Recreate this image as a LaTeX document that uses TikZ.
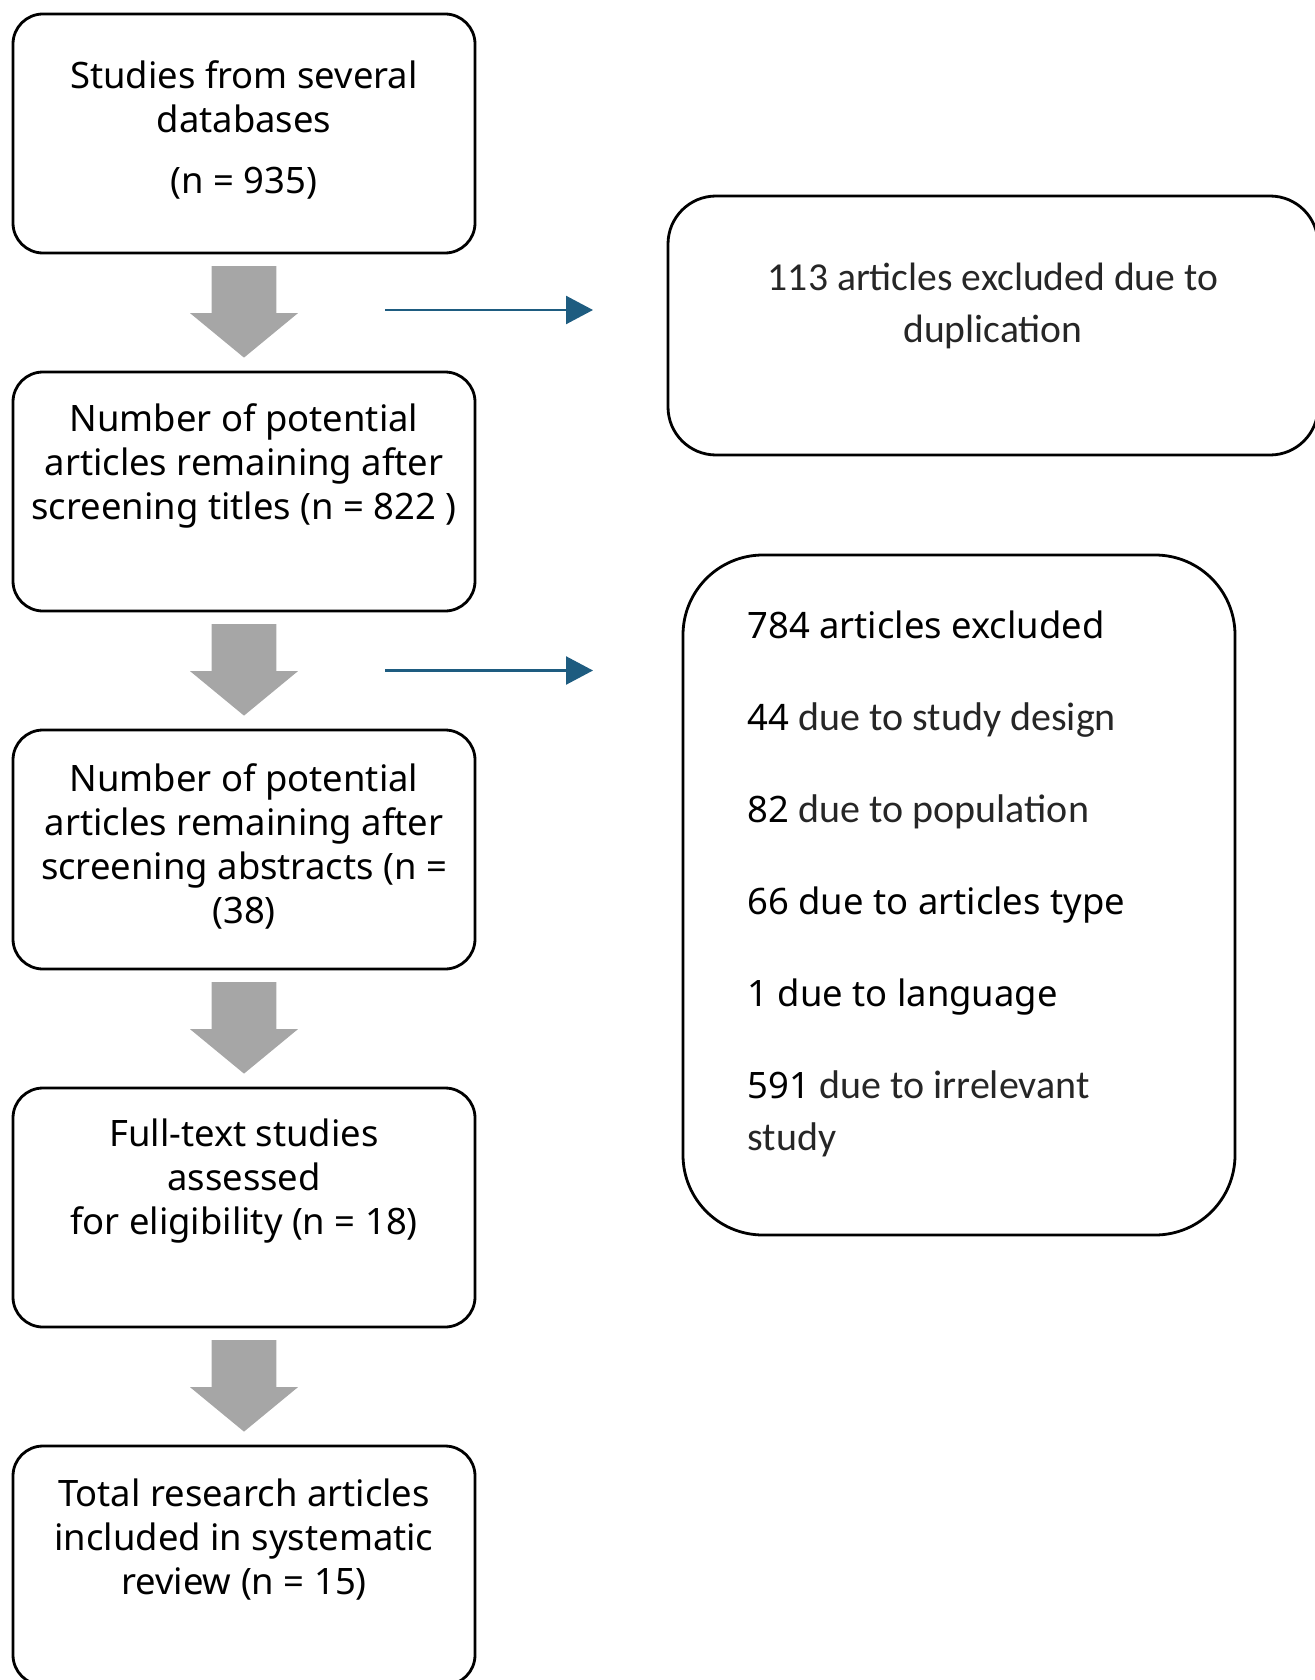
\documentclass[tikz,border=0pt]{standalone}
\usepackage{fontspec}
\setmainfont{Noto Sans}
\newfontfamily\calib{Carlito}
\usetikzlibrary{positioning,calc,shapes.arrows,arrows.meta}
\definecolor{arrowgray}{RGB}{166,166,166}
\definecolor{exclblue}{RGB}{30,92,128}
\tikzset{
  stage/.style={draw, line width=1.4pt, rounded corners=15pt, outer sep=0pt,
    minimum width=231pt, minimum height=119.5pt, inner sep=0pt},
  stagetext/.style={inner sep=0pt, align=center, font=\fontsize{18.2}{22}\selectfont},
  downarrow/.style={single arrow, fill=arrowgray, draw=none, shape border rotate=270,
    minimum height=45pt, minimum width=53.5pt, single arrow head extend=10.75pt,
    single arrow tip angle=101, inner sep=16pt, yshift=7pt},
  excl/.style={->, draw=exclblue, fill=exclblue, line width=1.2pt}
}
\newcommand\calpart[1]{{\calib\fontsize{20}{26}\selectfont\color{black!85}#1}}
\begin{document}
\begin{tikzpicture}[x=0.5pt, y=-0.5pt, >={Triangle[length=13.5pt,width=14pt]}, line join=round]
\useasboundingbox (0,0) rectangle (1314,1680);
% left column
\node[stage] (db) at (244,133.5) {};
\node[stage, below=59.5pt of db] (titles) {};
\node[stage, below=59.5pt of titles] (abstracts) {};
\node[stage, below=59.5pt of abstracts] (fulltext) {};
\node[stage, below=59.5pt of fulltext] (included) {};
\node[stagetext] (db-t) at ([yshift=2pt]db.center)
  {Studies from several\\databases\\[8.5pt](n = 935)};
\node[stagetext] (titles-t) at ([yshift=12.75pt]titles.center)
  {Number of potential\\articles remaining after\\screening titles (n = 822 )};
\node[stagetext] (abstracts-t) at ([yshift=1.75pt]abstracts.center)
  {Number of potential\\articles remaining after\\screening abstracts (n =\\(38)};
\node[stagetext] (fulltext-t) at ([yshift=13pt]fulltext.center)
  {Full-text studies\\assessed\\for eligibility (n = 18)};
\node[stagetext] (included-t) at ([yshift=13pt]included.center)
  {Total research articles\\included in systematic\\review (n = 15)};
% grey block arrows
\node[downarrow] (a1) at ($(db.south)!.5!(titles.north)$) {};
\node[downarrow] (a2) at ($(titles.south)!.5!(abstracts.north)$) {};
\node[downarrow] (a3) at ($(abstracts.south)!.5!(fulltext.north)$) {};
\node[downarrow] (a4) at ($(fulltext.south)!.5!(included.north)$) {};
% exclusions
\node[stage, minimum width=325pt, minimum height=129.5pt, rounded corners=24pt] (dup) at (993,325.5) {};
\node[stagetext, font=\calib\fontsize{19.8}{26}\selectfont, text=black!85] (dup-t) at ([yshift=10pt]dup.center)
  {113 articles excluded due to\\duplication};
\node[stage, minimum width=276pt, minimum height=340pt, rounded corners=40pt] (excl) at (959,895) {};
\node[stagetext, align=left, anchor=west, font=\fontsize{18.2}{26}\selectfont] (excl-t) at ([xshift=32pt,yshift=5.5pt]excl.west)
  {784 articles excluded\\[20pt]
   44 \calpart{due to study design}\\[20pt]
   82 \calpart{due to population}\\[20pt]
   66 due to articles type\\[20pt]
   1 due to language\\[20pt]
   591 \calpart{due to irrelevant}\\
   \calpart{study}};
\draw[excl] ([xshift=70.5pt,yshift=-5.75pt]a1.center) -- ($(a1.center -| dup.west)+(-37.5pt,-5.75pt)$);
\draw[excl] ([xshift=70.5pt,yshift=-7pt]a2.center) -- ($(a2.center -| excl.west)+(-45pt,-7pt)$);
\end{tikzpicture}
\end{document}
